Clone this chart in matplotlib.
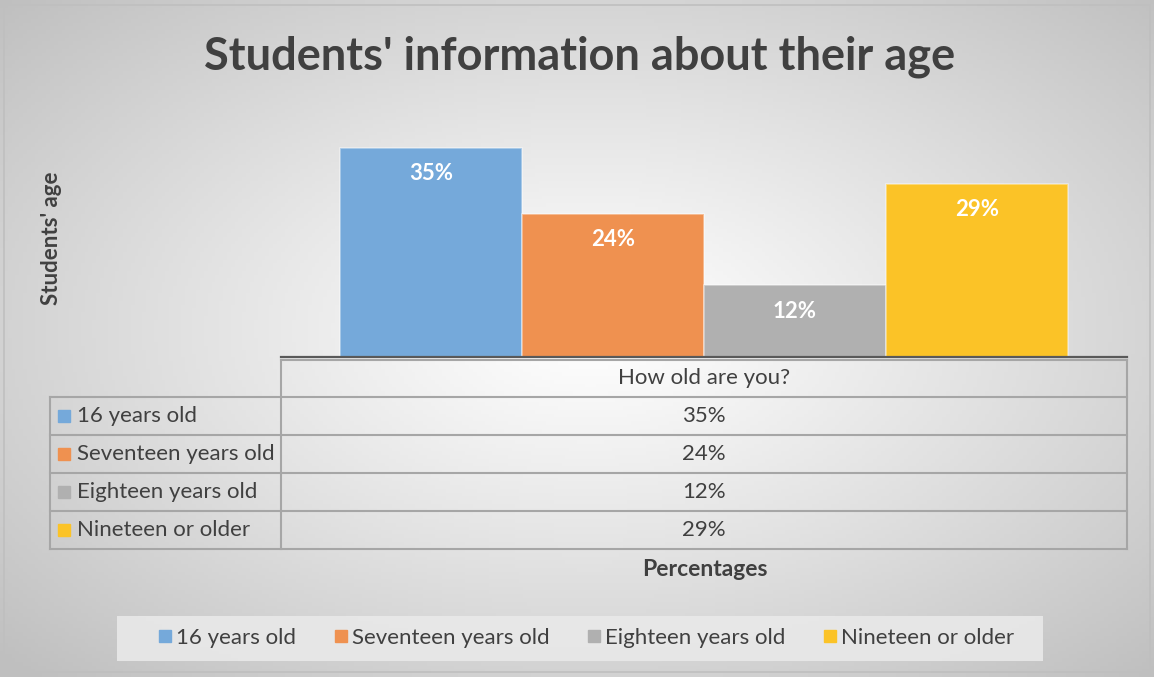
import numpy as np
import matplotlib.pyplot as plt
from matplotlib.patches import Rectangle
from matplotlib.lines import Line2D

# ---------------------------------------------------------------
# Data
# ---------------------------------------------------------------
title = "Students' information about their age"
category = "How old are you?"
series = ["16 years old", "Seventeen years old", "Eighteen years old", "Nineteen or older"]
values = [35, 24, 12, 29]          # [%]
colors = ["#75A9DA", "#EF9150", "#B0B0B0", "#FBC327"]
y_label = "Students' age"
x_label = "Percentages"

# ---------------------------------------------------------------
# Figure and helpers (pixel -> figure fraction)
# ---------------------------------------------------------------
W, H = 1154, 677
plt.rcParams['font.family'] = ['Lato', 'DejaVu Sans']
fig = plt.figure(figsize=(W / 100, H / 100), dpi=100)

def fx(px):
    return px / W

def fy(py):
    return 1 - py / H

txt = "#404040"

# radial gradient background
bg = fig.add_axes([0, 0, 1, 1], zorder=0)
xx, yy = np.meshgrid(np.linspace(0, W, 300), np.linspace(0, H, 180))
d = np.sqrt(((xx - 590) / (W / 2)) ** 2 + ((yy - 330) / (H / 2)) ** 2) / np.sqrt(2)
shade = 1 - 0.25 * np.clip(d, 0, 1) ** 1.1
bg.imshow(np.dstack([shade] * 3), extent=[0, W, H, 0], aspect='auto')
bg.add_patch(Rectangle((4, 5), 1146, 667, fill=False, ec="#BFBFBF", lw=1.2))
bg.set_xlim(0, W)
bg.set_ylim(H, 0)
bg.axis("off")

# ---------------------------------------------------------------
# Bars
# ---------------------------------------------------------------
left, right, base, top = 281, 1127, 357, 118
ax = fig.add_axes([fx(left), fy(base), fx(right - left), (base - top) / H], zorder=2)
ax.patch.set_alpha(0)
x = np.arange(len(values))
bars = ax.bar(x, values, width=1.0, color=colors, edgecolor=(1, 1, 1, 0.45), lw=1.2,
              label=series)
gap = 0.327
ax.set_xlim(-0.5 - gap, len(values) - 0.5 + gap)
ax.set_ylim(0, 40)
for b, v in zip(bars, values):
    ax.text(b.get_x() + b.get_width() / 2, v - 2.6, f"{v}%", ha="center", va="top",
            color="white", fontsize=16, fontweight="bold")
for s in ["top", "right", "left"]:
    ax.spines[s].set_visible(False)
ax.spines["bottom"].set_color("#595959")
ax.spines["bottom"].set_linewidth(1.6)
ax.set_xticks([])
ax.set_yticks([])

# ---------------------------------------------------------------
# Data table
# ---------------------------------------------------------------
grid = "#A6A6A6"
rows = [360, 397, 435, 473, 511, 549]
tl = fig.add_axes([0, 0, 1, 1], zorder=3)
tl.set_xlim(0, W)
tl.set_ylim(H, 0)
tl.axis("off")
tl.plot([left, right], [rows[0]] * 2, color=grid, lw=1.5)
for r in rows[1:]:
    tl.plot([50, right], [r, r], color=grid, lw=1.5)
tl.plot([50, 50], [rows[1], rows[-1]], color=grid, lw=1.5)
tl.plot([left, left], [rows[0], rows[-1]], color=grid, lw=1.5)
tl.plot([right, right], [rows[0], rows[-1]], color=grid, lw=1.5)
mid = (left + right) / 2
tl.text(mid, (rows[0] + rows[1]) / 2, category, ha="center", va="center", color=txt, fontsize=16)
for i, (name, v, c) in enumerate(zip(series, values, colors)):
    yc = (rows[i + 1] + rows[i + 2]) / 2
    tl.add_patch(Rectangle((58, yc - 6), 12, 12, color=c))
    tl.text(77, yc, name, ha="left", va="center", color=txt, fontsize=16)
    tl.text(mid, yc, f"{v}%", ha="center", va="center", color=txt, fontsize=16)

# ---------------------------------------------------------------
# Titles, labels, legend
# ---------------------------------------------------------------
fig.text(fx(580), fy(57), title, ha="center", va="center", color=txt,
         fontsize=32.5, fontweight="bold")
fig.text(fx(52), fy(238), y_label, ha="center", va="center", rotation=90,
         color=txt, fontsize=16, fontweight="bold")
fig.text(fx(705), fy(570), x_label, ha="center", va="center", color=txt,
         fontsize=16.5, fontweight="bold")

tl.add_patch(Rectangle((117, 616), 926, 45, color="#E9E9E9", alpha=0.9, lw=0))
handles = [Line2D([], [], marker="s", ls="", color=c, markersize=9) for c in colors]
fig.legend(handles, series, loc="center", bbox_to_anchor=(fx(585), fy(638)), ncol=4,
           frameon=False, fontsize=16, labelcolor=txt, handletextpad=0.1,
           columnspacing=1.6, handlelength=0.8)

fig.savefig("out.png", dpi=100)
